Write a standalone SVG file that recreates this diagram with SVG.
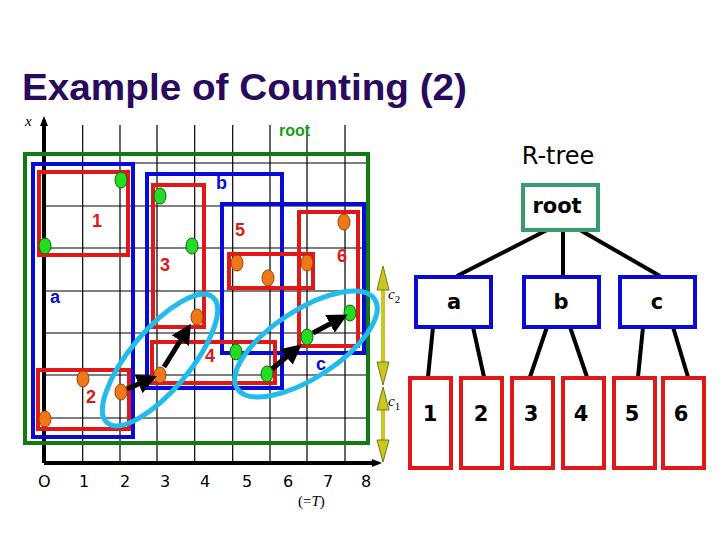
<svg xmlns="http://www.w3.org/2000/svg" width="720" height="540" viewBox="0 0 720 540">
<defs>
<style>
.g{stroke:#000;stroke-width:1.2}
.rr{fill:none;stroke:#e01818;stroke-width:4}
.bb{fill:none;stroke:#0a0ad8;stroke-width:4}
.gn{fill:#22dd22;stroke:#116611;stroke-width:1}
.or{fill:#f07818;stroke:#a04008;stroke-width:1}
.rl{font-family:"Liberation Sans",Arial,sans-serif;font-weight:bold;font-size:18px;fill:#e01818}
.bl{font-family:"Liberation Sans",Arial,sans-serif;font-weight:bold;font-size:18px;fill:#0a0ad8}
.ax{font-family:"DejaVu Sans",sans-serif;font-size:16px;fill:#000}
.sr{font-family:"Liberation Serif",serif;font-style:italic;font-size:15px;fill:#000}
.tn{font-family:"DejaVu Sans",sans-serif;font-weight:bold;font-size:21px;fill:#000;text-anchor:middle}
.el{fill:none;stroke:#22bbee;stroke-width:5}
.ar{stroke:#000;stroke-width:5;marker-end:url(#ah)}
.tl{stroke:#000;stroke-width:4}
.olv{stroke:#c8c820;stroke-width:4}
.olh{fill:#c8c820;stroke:#777710;stroke-width:1}
</style>
<marker id="ah" markerWidth="4" markerHeight="4" refX="2.5" refY="2" orient="auto"><path d="M0,0L4,2L0,4z" fill="#000"/></marker>
<marker id="ax" markerWidth="10" markerHeight="8" refX="6" refY="4" orient="auto" markerUnits="userSpaceOnUse"><path d="M0,0L10,4L0,8z" fill="#000"/></marker>
</defs>
<rect width="720" height="540" fill="#fff"/>
<text x="22" y="100" font-family="Liberation Sans,Arial,sans-serif" font-weight="bold" font-size="37" fill="#2a0a5e" textLength="445" lengthAdjust="spacingAndGlyphs">Example of Counting (2)</text>
<g id="grid">
<path class="g" d="M82.7,125V463M120,125V463M157,125V463M194.7,125V463M232.7,125V463M270,125V463M307,125V463M345,125V463"/>
<path class="g" d="M44,163H370M44,206H370M44,248H370M44,291H370M44,333H370M44,375H370M44,418H370"/>
</g>
<g id="axes">
<line x1="44" y1="463" x2="44" y2="120" stroke="#000" stroke-width="4" marker-end="url(#ax)"/>
<line x1="44" y1="463" x2="378" y2="463" stroke="#000" stroke-width="4" marker-end="url(#ax)"/>
<text x="25" y="126" class="sr">x</text>
<text class="ax" x="38" y="487">O</text><text class="ax" x="79" y="487">1</text><text class="ax" x="120" y="487">2</text><text class="ax" x="160" y="487">3</text><text class="ax" x="200" y="487">4</text><text class="ax" x="242" y="487">5</text><text class="ax" x="283" y="487">6</text><text class="ax" x="323" y="487">7</text><text class="ax" x="361" y="487">8</text>
<text x="298" y="506" font-family="Liberation Serif,serif" font-size="15">(=<tspan font-style="italic">T</tspan>)</text>
</g>
<g id="rootbox"><rect x="25" y="154" width="343" height="289" fill="none" stroke="#127a12" stroke-width="4"/>
<text x="279" y="136" font-family="Liberation Sans,Arial,sans-serif" font-weight="bold" font-size="16" fill="#1a9a1a">root</text></g>
<g id="a"><rect class="bb" x="33" y="164" width="100" height="273"/><text class="bl" x="50" y="303">a</text></g>
<g id="b"><rect class="bb" x="147" y="174" width="135" height="214"/><text class="bl" x="216" y="189">b</text></g>
<g id="c"><rect class="bb" x="222" y="204" width="142" height="149"/><text class="bl" x="316" y="370">c</text></g>
<g id="n1"><rect class="rr" x="39" y="172" width="89" height="83"/><text class="rl" x="92" y="227">1</text></g>
<g id="n2"><rect class="rr" x="38" y="370" width="91" height="59"/><text class="rl" x="86" y="403">2</text></g>
<g id="n3"><rect class="rr" x="153" y="185" width="51" height="142"/><text class="rl" x="160" y="271">3</text></g>
<g id="n4"><rect class="rr" x="152" y="342" width="123" height="41"/><text class="rl" x="205" y="362">4</text></g>
<g id="n5"><rect class="rr" x="229" y="254" width="84" height="34"/><text class="rl" x="235" y="236">5</text></g>
<g id="n6"><rect class="rr" x="299" y="212" width="59" height="134"/><text class="rl" x="337" y="262">6</text></g>
<g id="points">
<ellipse class="gn" cx="121" cy="180" rx="6" ry="8"/><ellipse class="gn" cx="45" cy="246" rx="6" ry="8"/>
<ellipse class="gn" cx="160" cy="196" rx="6" ry="8"/><ellipse class="gn" cx="192" cy="246" rx="6" ry="8"/>
<ellipse class="or" cx="344" cy="222" rx="6" ry="8"/><ellipse class="or" cx="237" cy="263" rx="6" ry="8"/>
<ellipse class="or" cx="268" cy="278" rx="6" ry="8"/><ellipse class="or" cx="307" cy="263" rx="6" ry="8"/>
<ellipse class="or" cx="197" cy="317" rx="6" ry="8"/><ellipse class="or" cx="160" cy="375" rx="6" ry="8"/>
<ellipse class="or" cx="121" cy="392" rx="6" ry="8"/><ellipse class="or" cx="83" cy="379" rx="6" ry="8"/>
<ellipse class="or" cx="45" cy="419" rx="6" ry="8"/>
<ellipse class="gn" cx="236" cy="352" rx="6" ry="8"/><ellipse class="gn" cx="267" cy="374" rx="6" ry="8"/>
<ellipse class="gn" cx="307" cy="337" rx="6" ry="8"/><ellipse class="gn" cx="350" cy="313" rx="6" ry="8"/>
</g>
<g id="ellipses">
<ellipse class="el" cx="160" cy="360" rx="82" ry="30" transform="rotate(-50 160 360)"/>
<ellipse class="el" cx="306" cy="344" rx="82" ry="34" transform="rotate(-33 306 344)"/>
</g>
<g id="connectors">
<line class="ar" x1="127" y1="389" x2="150" y2="379"/>
<line class="ar" x1="164" y1="367" x2="187" y2="330"/>
<line class="ar" x1="272" y1="369" x2="296" y2="349"/>
<line class="ar" x1="313" y1="333" x2="341" y2="318"/>
<line class="olv" x1="383" y1="280" x2="383" y2="375"/>
<polygon class="olh" points="383,266 377,290 389,290"/>
<polygon class="olh" points="383,385 377,362 389,362"/>
<line class="olv" x1="383" y1="398" x2="383" y2="452"/>
<polygon class="olh" points="383,387 377,410 389,410"/>
<polygon class="olh" points="383,462 377,440 389,440"/>
<line class="tl" x1="547" y1="230" x2="457" y2="276"/><line class="tl" x1="563" y1="230" x2="563" y2="276"/><line class="tl" x1="580" y1="230" x2="660" y2="276"/>
<line class="tl" x1="433" y1="327" x2="428" y2="377"/><line class="tl" x1="473" y1="327" x2="484" y2="377"/>
<line class="tl" x1="547" y1="327" x2="530" y2="377"/><line class="tl" x1="570" y1="327" x2="587" y2="377"/>
<line class="tl" x1="643" y1="327" x2="638" y2="377"/><line class="tl" x1="673" y1="327" x2="688" y2="377"/>
</g>
<text x="388" y="299" class="sr">c<tspan font-size="11" dy="4" font-style="normal">2</tspan></text>
<text x="388" y="406" class="sr">c<tspan font-size="11" dy="4" font-style="normal">1</tspan></text>
<text x="558" y="164" font-family="DejaVu Sans,sans-serif" font-size="24" text-anchor="middle">R-tree</text>
<g id="t-root"><rect x="523" y="185" width="75" height="45" fill="#fff" stroke="#3a9a6a" stroke-width="4"/><text class="tn" x="557" y="213">root</text></g>
<g id="t-a"><rect x="416" y="277" width="75" height="50" fill="#fff" stroke="#0a0ad8" stroke-width="4"/><text class="tn" x="454" y="309">a</text></g>
<g id="t-b"><rect x="524" y="277" width="75" height="50" fill="#fff" stroke="#0a0ad8" stroke-width="4"/><text class="tn" x="561" y="309">b</text></g>
<g id="t-c"><rect x="620" y="277" width="75" height="50" fill="#fff" stroke="#0a0ad8" stroke-width="4"/><text class="tn" x="657" y="309">c</text></g>
<g id="t-1"><rect x="410" y="378" width="41" height="90" fill="#fff" stroke="#e01818" stroke-width="4"/><text class="tn" x="430" y="421">1</text></g>
<g id="t-2"><rect x="461" y="378" width="41" height="90" fill="#fff" stroke="#e01818" stroke-width="4"/><text class="tn" x="481" y="421">2</text></g>
<g id="t-3"><rect x="512" y="378" width="41" height="90" fill="#fff" stroke="#e01818" stroke-width="4"/><text class="tn" x="531" y="421">3</text></g>
<g id="t-4"><rect x="563" y="378" width="41" height="90" fill="#fff" stroke="#e01818" stroke-width="4"/><text class="tn" x="581" y="421">4</text></g>
<g id="t-5"><rect x="614" y="378" width="41" height="90" fill="#fff" stroke="#e01818" stroke-width="4"/><text class="tn" x="632" y="421">5</text></g>
<g id="t-6"><rect x="663" y="378" width="41" height="90" fill="#fff" stroke="#e01818" stroke-width="4"/><text class="tn" x="681" y="421">6</text></g>
</svg>
